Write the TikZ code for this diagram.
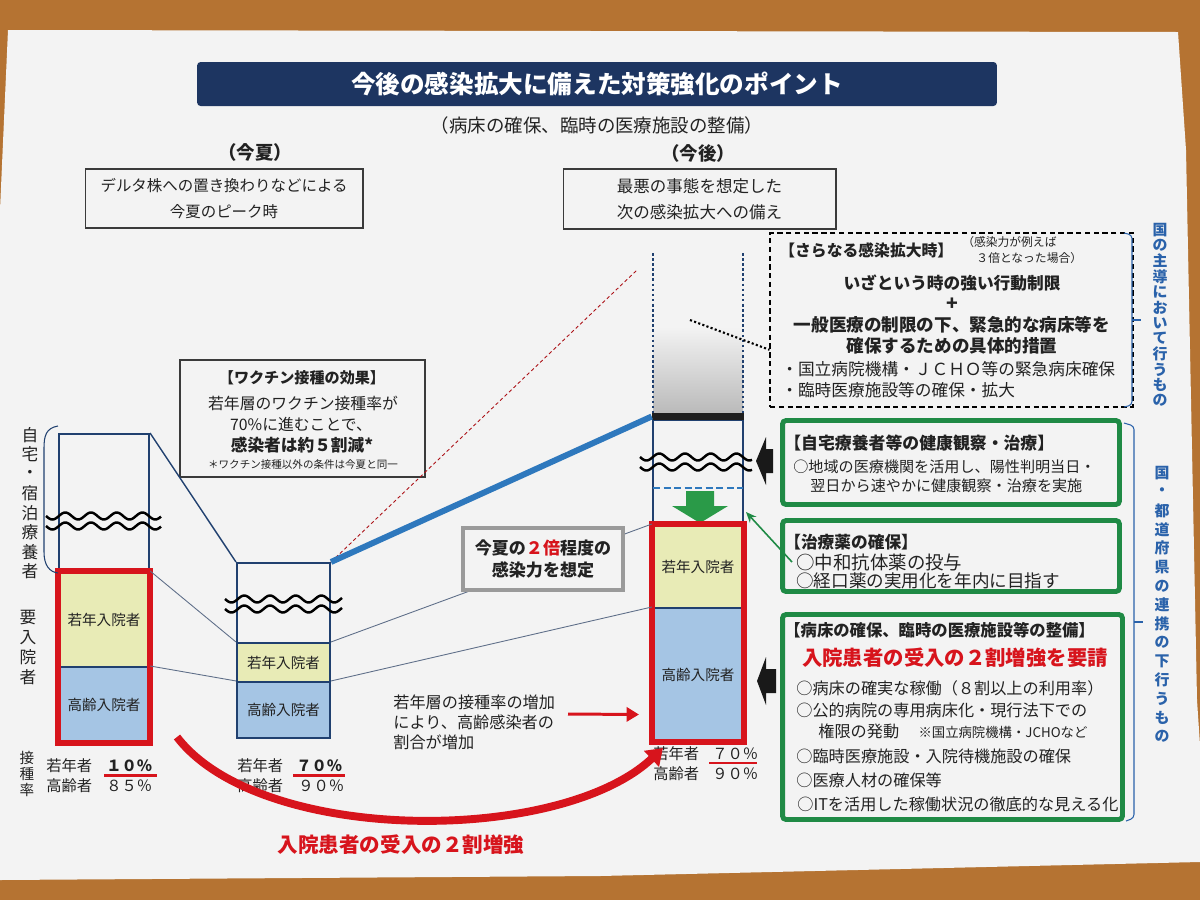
\documentclass[tikz,border=0pt]{standalone}
\usepackage{fontspec}
\setmainfont{Noto Sans CJK JP}
\usetikzlibrary{arrows.meta,calc}
\definecolor{wood}{HTML}{B57332}
\definecolor{paper}{HTML}{F3F3F3}
\definecolor{navy}{HTML}{1D3561}
\definecolor{colnavy}{HTML}{20406F}
\definecolor{ylw}{HTML}{E8EBB6}
\definecolor{blu}{HTML}{A5C5E4}
\definecolor{rd}{HTML}{D7141C}
\definecolor{grn}{HTML}{1F8A45}
\definecolor{grnarrow}{HTML}{2A9A48}
\definecolor{vblue}{HTML}{2A62AA}
\definecolor{thickblue}{HTML}{2E78BD}
\definecolor{gbrd}{HTML}{9A9A9A}
\definecolor{txt}{HTML}{222222}
\definecolor{boxgray}{HTML}{3A3A3A}
\definecolor{linkgray}{HTML}{5E6E88}
\newcommand\myfs[1]{\fontsize{#1pt}{#1pt}\selectfont}
\newcommand\myfsl[2]{\fontsize{#1pt}{#2pt}\selectfont}
\newcommand\wavepair[3]{%
  \draw[wave] plot[domain=#1:#2,samples=90,smooth] (\x,{#3+3.5*sin((\x-#1)*14)});
  \draw[wave] plot[domain=#1:#2,samples=90,smooth] (\x,{#3+10+3.5*sin((\x-#1)*14)});}
\begin{document}
\begin{tikzpicture}[x=0.02cm,y=-0.02cm,
  every node/.append style={text=txt},
  tbox/.style={draw=boxgray, line width=0.6pt, fill=paper, inner sep=0pt, align=center},
  colseg/.style={draw=colnavy, line width=1.2pt, inner sep=0pt, font=\myfs{8.3}},
  gbox/.style={draw=grn, line width=2.8pt, rounded corners=2pt, inner sep=0pt},
  wave/.style={line width=1.4pt, black},
  thinlink/.style={draw=linkgray, line width=0.5pt},
  vch/.style={font=\myfs{8.5}\bfseries, text=vblue, inner sep=0pt},
  vlab/.style={font=\myfs{9.5}, inner sep=0pt},
  lbl/.style={anchor=west, inner sep=0pt, font=\myfs{8.7}},
  lw/.style={anchor=west, inner sep=0pt},
  dotside/.style={colnavy, line width=1.6pt, dash pattern=on 1.5pt off 1.4pt},
]
\useasboundingbox (0,0) rectangle (1200,900);
\fill[wood] (0,0) rectangle (1200,900);
\fill[paper] (8,30) -- (1178,32) -- (1186,150) -- (1192,450) -- (1197,700) -- (1200,745) -- (1200,862) -- (600,876) -- (0,880) -- (0,210) -- (4,120) -- cycle;

% title
\node[fill=navy, rounded corners=2pt, minimum width=16cm, minimum height=0.88cm, inner sep=0pt, text=white, font=\myfs{14}\bfseries] (title) at (597,84) {今後の感染拡大に備えた対策強化のポイント};
\node[font=\myfs{10.5}] (sub) at (597,125) {（病床の確保、臨時の医療施設の整備）};
\node[font=\myfs{10.5}\bfseries] (hsum) at (255,152) {（今夏）};
\node[font=\myfs{10.5}\bfseries] (hfut) at (698,153) {（今後）};

\node[tbox, minimum width=5.56cm, minimum height=1.18cm, font=\myfsl{8.8}{15.3}] (b1) at (224,198.5) {デルタ株への置き換わりなどによる\\今夏のピーク時};
\node[tbox, minimum width=5.46cm, minimum height=1.2cm, font=\myfsl{9.4}{14.7}] (b2) at (699.5,199) {最悪の事態を想定した\\次の感染拡大への備え};

% vaccine box
\node[tbox, minimum width=4.9cm, minimum height=2.34cm] (vbox) at (302.5,418.5) {};
\node[font=\myfs{8.6}\bfseries] (v1) at (302,378) {【ワクチン接種の効果】};
\node[font=\myfs{9}] (v2) at (303,403) {若年層のワクチン接種率が};
\node[font=\myfs{9}] (v3) at (301,424) {70\%に進むことで、};
\node[font=\myfs{9.5}\bfseries] (v4) at (302,445) {感染者は約５割減*};
\node[font=\myfs{6}] (v5) at (303,464) {＊ワクチン接種以外の条件は今夏と同一};

% left column
\node[colseg, minimum width=1.8cm, minimum height=2.76cm] (LTop) at (104,503) {};
\node[colseg, fill=ylw, minimum width=1.8cm, minimum height=1.9cm] (LY) at (104,619.5) {若年入院者};
\node[colseg, fill=blu, minimum width=1.8cm, minimum height=1.5cm] (LB) at (104,704.5) {高齢入院者};
% middle column
\node[colseg, minimum width=1.86cm, minimum height=1.6cm] (MTop) at (283.5,603) {};
\node[colseg, fill=ylw, minimum width=1.86cm, minimum height=0.78cm] (MY) at (283.5,662.5) {若年入院者};
\node[colseg, fill=blu, minimum width=1.86cm, minimum height=1.12cm] (MB) at (283.5,710) {高齢入院者};
% right column
\shade[top color=paper, bottom color=black!27] (653,327) rectangle (743,413);
\draw[dotside] (653,253) -- (653,413);
\draw[dotside] (743,253) -- (743,413);
\node[colseg, minimum width=1.8cm, minimum height=2.1cm] (RTop) at (698,472.5) {};
\node[colseg, fill=ylw, minimum width=1.8cm, minimum height=1.66cm] (RY) at (698,566.5) {若年入院者};
\node[colseg, fill=blu, minimum width=1.8cm, minimum height=2.66cm] (RB) at (698,674.5) {高齢入院者};
\node[fill=black!88, minimum width=1.84cm, minimum height=0.14cm, inner sep=0pt] (bar) at (698,416.5) {};
\draw[thickblue, line width=1.2pt, dash pattern=on 4pt off 2pt] (653,488) -- (743,488);
\fill[grnarrow] (686,491) -- (714,491) -- (714,506) -- (728,506) -- (700,523) -- (672,506) -- (686,506) -- cycle;

% red frames
\draw[rd, line width=3.7pt] (LY.north west) rectangle (LB.south east);
\draw[rd, line width=3.7pt] (RY.north west) rectangle (RB.south east);

% waves
\wavepair{46}{161}{516}
\wavepair{225}{342}{599}
\wavepair{640}{752}{457}

% links
\draw[colnavy, line width=0.8pt] (LTop.north east) -- (MTop.north west);
\draw[thinlink] (LY.north east) -- (MY.north west);
\draw[thinlink] (LB.north east) -- (MB.north west);
\draw[thinlink] (MY.north east) -- (RY.north west);
\draw[thinlink] (MB.north east) -- (RB.north west);
\coordinate (rdend) at (637,270);
\draw[rd!80!black, line width=0.5pt, dash pattern=on 2pt off 1.5pt] (MTop.north east) -- (rdend);
\draw[thickblue, line width=3.4pt] (MTop.north east) -- (bar.west);

% left bracket and labels
\draw[colnavy, line width=0.6pt] (58,426) .. controls (46,428) and (44,436) .. (44,448) -- (44,552) .. controls (44,566) and (50,572) .. (58,573);
\foreach \c [count=\i from 0] in {自,宅,・,宿,泊,療,養,者} \node[vlab] (ja\i) at (30,435+19.5*\i) {\c};
\foreach \c [count=\i from 0] in {要,入,院,者} \node[vlab] (jb\i) at (28,618+19.7*\i) {\c};
\foreach \c [count=\i from 0] in {接,種,率} \node[vlab, font=\myfs{8.3}] (jc\i) at (27,758+16*\i) {\c};

% rates
\node[lbl] (l1a) at (46,766) {若年者};
\node[lbl, font=\myfs{8.7}\bfseries] (l1b) at (106,766) {１０％};
\node[lbl] (l1c) at (46,786) {高齢者};
\node[lbl] (l1d) at (106,786) {８５％};
\draw[rd, line width=1.7pt] (104,775) -- (157,775);
\node[lbl] (l2a) at (237,766) {若年者};
\node[lbl, font=\myfs{8.7}\bfseries] (l2b) at (296,766) {７０％};
\node[lbl] (l2c) at (237,786) {高齢者};
\node[lbl] (l2d) at (298,786) {９０％};
\draw[rd, line width=1.7pt] (293,775) -- (345,775);
\node[lbl] (l3a) at (653,754) {若年者};
\node[lbl] (l3b) at (712,754) {７０％};
\node[lbl] (l3c) at (653,774) {高齢者};
\node[lbl] (l3d) at (712,774) {９０％};
\draw[rd, line width=0.8pt] (709,763) -- (757,763);

% twice box
\node[draw=gbrd, line width=2.3pt, fill=paper, minimum width=3.2cm, minimum height=1.24cm, inner sep=0pt, align=center, font=\myfsl{9.7}{12.5}\bfseries] (twice) at (543,559) {今夏の\textcolor{rd}{２倍}程度の\\感染力を想定};

% note and red arrow
\node[anchor=west, align=left, inner sep=0pt, font=\myfsl{9.2}{11.3}] (note) at (393,722) {若年層の接種率の増加\\により、高齢感染者の\\割合が増加};
\coordinate (ra1) at (568,714);
\draw[rd, line width=1.7pt, -{Triangle[length=7pt,width=8pt]}] (ra1) -- ($(RB.west)+(-13,40)$);

% dashed box
\node[draw=black, line width=0.7pt, dash pattern=on 3pt off 2pt, minimum width=7.26cm, minimum height=3.48cm, inner sep=0pt] (dbox) at (951.5,320) {};
\node[lw, font=\myfs{9}\bfseries] (dh) at (779,250) {【さらなる感染拡大時】};
\node[lw, align=left, font=\myfsl{6.7}{9}] (dn) at (962,250) {（感染力が例えば\\\hspace{1.2em}３倍となった場合）};
\node[font=\myfs{9.5}\bfseries] (d1) at (952,283) {いざという時の強い行動制限};
\node[font=\myfs{11}\bfseries] (d2) at (952,304) {+};
\node[font=\myfs{10}\bfseries] (d3) at (952,325) {一般医療の制限の下、緊急的な病床等を};
\node[font=\myfs{10}\bfseries] (d4) at (952,346) {確保するための具体的措置};
\node[lw, font=\myfs{9.5}] (d5) at (781,369) {・国立病院機構・ＪＣＨＯ等の緊急病床確保};
\node[lw, font=\myfs{9.5}] (d6) at (781,390) {・臨時医療施設等の確保・拡大};
\coordinate (dq) at (690,320);
\draw[black, line width=1.2pt, dash pattern=on 1.2pt off 1.3pt] (dq) -- ($(dbox.south west)!0.33!(dbox.north west)$);

% green boxes
\node[gbox, minimum width=6.74cm, minimum height=1.68cm] (g1) at (951,462.5) {};
\node[lw, font=\myfs{9.6}\bfseries] (g1h) at (784,443) {【自宅療養者等の健康観察・治療】};
\node[lw, font=\myfs{8.6}] (g1a) at (793,467) {○地域の医療機関を活用し、陽性判明当日・};
\node[lw, font=\myfs{8.6}] (g1b) at (810,486) {翌日から速やかに健康観察・治療を実施};

\node[gbox, minimum width=6.74cm, minimum height=1.42cm] (g2) at (951,556) {};
\node[lw, font=\myfs{9.5}\bfseries] (g2h) at (784,542) {【治療薬の確保】};
\node[lw, font=\myfs{10.5}] (g2a) at (796,562) {○中和抗体薬の投与};
\node[lw, font=\myfs{10}] (g2b) at (796,581) {○経口薬の実用化を年内に目指す};

\node[gbox, minimum width=6.8cm, minimum height=4.1cm] (g3) at (952.5,717) {};
\node[lw, font=\myfs{9.3}\bfseries] (g3h) at (784,630) {【病床の確保、臨時の医療施設等の整備】};
\node[font=\myfs{11.6}\bfseries, text=rd] (g3r) at (955,658) {入院患者の受入の２割増強を要請};
\node[lw, font=\myfs{9.2}] (g3a) at (796,688) {○病床の確実な稼働（８割以上の利用率）};
\node[lw, font=\myfs{9.2}] (g3b) at (796,710) {○公的病院の専用病床化・現行法下での};
\node[lw, font=\myfs{9.2}] (g3c) at (818,731) {権限の発動\hspace{1.2em}{\myfs{7.6}※国立病院機構・JCHOなど}};
\node[lw, font=\myfs{9.2}] (g3d) at (796,756) {○臨時医療施設・入院待機施設の確保};
\node[lw, font=\myfs{9.2}] (g3e) at (796,780) {○医療人材の確保等};
\node[lw, font=\myfs{9.2}] (g3f) at (797,804) {○ITを活用した稼働状況の徹底的な見える化};

% arrows into column
\fill[black!90] (756,461) -- (766,437) -- (766,449) -- (773,449) -- (773,473) -- (766,473) -- (766,485) -- cycle;
\fill[black!90] (757,681) -- (766,657) -- (766,669) -- (776,669) -- (776,693) -- (766,693) -- (766,705) -- cycle;
\coordinate (garr) at (746,512);
\draw[grn, line width=0.9pt, -{Stealth[length=6pt,width=5pt]}] ($(g2a.west)+(-4,0)$) -- (garr);

% right brackets and vertical texts
\draw[vblue, line width=0.6pt, rounded corners=2pt] (1124,233) -- (1132,235) -- (1132,405) -- (1124,407);
\draw[vblue, line width=0.6pt] (1132,320) -- (1141,320);
\draw[vblue, line width=0.6pt, rounded corners=2pt] (1124,423) -- (1134,426) -- (1134,818) -- (1126,821);
\draw[vblue, line width=0.6pt] (1134,622) -- (1143,622);
\foreach \c [count=\i from 0] in {国,の,主,導,に,お,い,て,行,う,も,の} \node[vch] (va\i) at (1160,230+15.5*\i) {\c};
\foreach \c [count=\i from 0] in {国,・,都,道,府,県,の,連,携,の,下,行,う,も,の} \node[vch] (vb\i) at (1162,473+18.8*\i) {\c};

% big red arc
\coordinate (arcs) at (177,737);
\draw[rd, line width=4.5pt, -{Triangle[length=9pt,width=12pt]}] (arcs) .. controls (260,845) and (560,845) .. ($(RB.south west)+(11,6)$);
\node[font=\myfs{11.7}\bfseries, text=rd] (bigred) at (401,845) {入院患者の受入の２割増強};
\end{tikzpicture}
\end{document}
